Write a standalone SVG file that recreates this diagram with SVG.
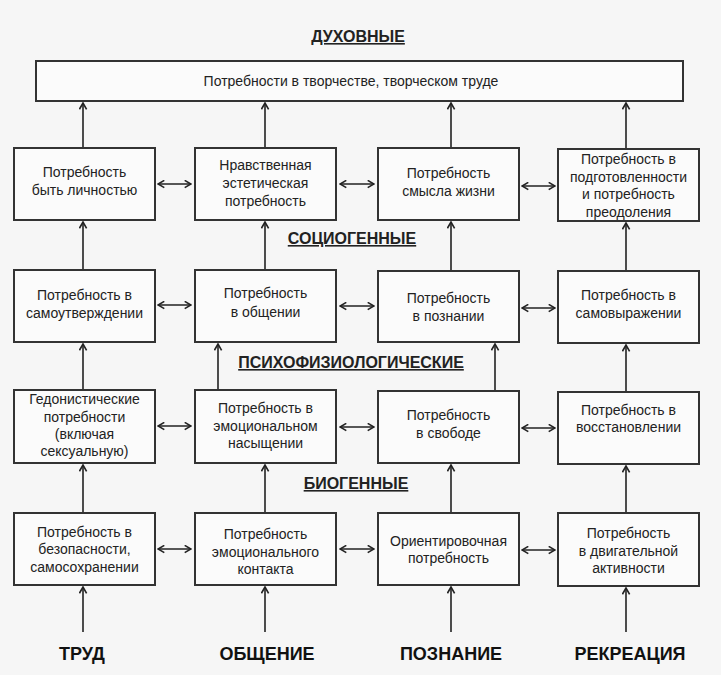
<svg xmlns="http://www.w3.org/2000/svg" width="721" height="675" viewBox="0 0 721 675">
<defs>
<marker id="ah" viewBox="0 0 10 10" refX="9" refY="5" markerWidth="9" markerHeight="9" markerUnits="userSpaceOnUse" orient="auto-start-reverse">
<path d="M2,1 L9,5 L2,9" fill="none" stroke="#222" stroke-width="1.8"/>
</marker>
</defs>
<style>
.box{fill:#fbfbfb;stroke:#333;stroke-width:2}
.t{font-family:"Liberation Sans",Arial,sans-serif;font-size:14px;fill:#222;text-anchor:middle}
.h{font-family:"Liberation Sans",Arial,sans-serif;font-size:16px;font-weight:bold;fill:#222;text-anchor:middle;text-decoration:underline}
.b{font-family:"Liberation Sans",Arial,sans-serif;font-size:18px;font-weight:bold;fill:#111;text-anchor:middle}
.c line{stroke:#222;stroke-width:1.6;marker-end:url(#ah)}
.c line.d{marker-start:url(#ah)}
</style>
<rect width="721" height="675" fill="#f6f6f6"/>

<g id="labels">
<text class="h" x="358" y="42">ДУХОВНЫЕ</text>
<text class="h" x="352" y="244">СОЦИОГЕННЫЕ</text>
<text class="h" x="351" y="368">ПСИХОФИЗИОЛОГИЧЕСКИЕ</text>
<text class="h" x="356" y="489">БИОГЕННЫЕ</text>
</g>

<g id="top"><rect class="box" x="36" y="61" width="647" height="40"/>
<text class="t" x="351" y="86">Потребности в творчестве, творческом труде</text></g>

<g id="r1b1"><rect class="box" x="14" y="148" width="141" height="72"/>
<text class="t" x="84.5" y="177">Потребность</text><text class="t" x="84.5" y="195">быть личностью</text></g>
<g id="r1b2"><rect class="box" x="195" y="148" width="141" height="72"/>
<text class="t" x="265.5" y="170">Нравственная</text><text class="t" x="265.5" y="188">эстетическая</text><text class="t" x="265.5" y="206">потребность</text></g>
<g id="r1b3"><rect class="box" x="378" y="148" width="141" height="72"/>
<text class="t" x="448.5" y="178">Потребность</text><text class="t" x="448.5" y="196">смысла жизни</text></g>
<g id="r1b4"><rect class="box" x="558" y="149" width="141" height="72"/>
<text class="t" x="628.5" y="164">Потребность в</text><text class="t" x="628.5" y="182">подготовленности</text><text class="t" x="628.5" y="199">и потребность</text><text class="t" x="628.5" y="217">преодоления</text></g>

<g id="r2b1"><rect class="box" x="14" y="270" width="141" height="72"/>
<text class="t" x="84.5" y="300">Потребность в</text><text class="t" x="84.5" y="318">самоутверждении</text></g>
<g id="r2b2"><rect class="box" x="195" y="270" width="141" height="72"/>
<text class="t" x="265.5" y="298">Потребность</text><text class="t" x="265.5" y="317">в общении</text></g>
<g id="r2b3"><rect class="box" x="378" y="271" width="141" height="71"/>
<text class="t" x="448.5" y="303">Потребность</text><text class="t" x="448.5" y="321">в познании</text></g>
<g id="r2b4"><rect class="box" x="558" y="271" width="141" height="72"/>
<text class="t" x="628.5" y="300">Потребность в</text><text class="t" x="628.5" y="318">самовыражении</text></g>

<g id="r3b1"><rect class="box" x="14" y="390" width="141" height="73"/>
<text class="t" x="84.5" y="404">Гедонистические</text><text class="t" x="84.5" y="422">потребности</text><text class="t" x="84.5" y="439">(включая</text><text class="t" x="84.5" y="456">сексуальную)</text></g>
<g id="r3b2"><rect class="box" x="195" y="390" width="141" height="73"/>
<text class="t" x="265.5" y="413">Потребность в</text><text class="t" x="265.5" y="431">эмоциональном</text><text class="t" x="265.5" y="448">насыщении</text></g>
<g id="r3b3"><rect class="box" x="378" y="391" width="141" height="72"/>
<text class="t" x="448.5" y="420">Потребность</text><text class="t" x="448.5" y="438">в свободе</text></g>
<g id="r3b4"><rect class="box" x="558" y="392" width="141" height="72"/>
<text class="t" x="628.5" y="415">Потребность в</text><text class="t" x="628.5" y="432">восстановлении</text></g>

<g id="r4b1"><rect class="box" x="14" y="513" width="141" height="72"/>
<text class="t" x="84.5" y="537">Потребность в</text><text class="t" x="84.5" y="554">безопасности,</text><text class="t" x="84.5" y="572">самосохранении</text></g>
<g id="r4b2"><rect class="box" x="195" y="513" width="141" height="72"/>
<text class="t" x="265.5" y="539">Потребность</text><text class="t" x="265.5" y="557">эмоционального</text><text class="t" x="265.5" y="574">контакта</text></g>
<g id="r4b3"><rect class="box" x="378" y="513" width="141" height="72"/>
<text class="t" x="448.5" y="546">Ориентировочная</text><text class="t" x="448.5" y="563">потребность</text></g>
<g id="r4b4"><rect class="box" x="558" y="513" width="141" height="73"/>
<text class="t" x="628.5" y="538">Потребность</text><text class="t" x="628.5" y="556">в двигательной</text><text class="t" x="628.5" y="573">активности</text></g>

<g id="bottom">
<text class="b" x="82" y="660">ТРУД</text>
<text class="b" x="267" y="660">ОБЩЕНИЕ</text>
<text class="b" x="451" y="660">ПОЗНАНИЕ</text>
<text class="b" x="630" y="660">РЕКРЕАЦИЯ</text>
</g>

<g id="connectors" class="c">
<line x1="83" y1="147" x2="83" y2="103"/>
<line x1="265" y1="147" x2="265" y2="103"/>
<line x1="451" y1="147" x2="451" y2="103"/>
<line x1="626" y1="148" x2="626" y2="103"/>

<line x1="83" y1="269" x2="83" y2="222"/>
<line x1="265" y1="269" x2="265" y2="222"/>
<line x1="451" y1="270" x2="451" y2="222"/>
<line x1="626" y1="270" x2="626" y2="223"/>

<line x1="83" y1="389" x2="83" y2="344"/>
<line x1="218" y1="389" x2="218" y2="344"/>
<line x1="495" y1="390" x2="495" y2="344"/>
<line x1="626" y1="391" x2="626" y2="345"/>

<line x1="83" y1="512" x2="83" y2="465"/>
<line x1="265" y1="512" x2="265" y2="465"/>
<line x1="451" y1="512" x2="451" y2="465"/>
<line x1="626" y1="512" x2="626" y2="466"/>

<line x1="83" y1="632" x2="83" y2="587"/>
<line x1="265" y1="632" x2="265" y2="587"/>
<line x1="451" y1="632" x2="451" y2="587"/>
<line x1="626" y1="632" x2="626" y2="588"/>

<line class="d" x1="158" y1="184" x2="191" y2="184"/>
<line class="d" x1="340" y1="184" x2="374" y2="184"/>
<line class="d" x1="522" y1="186" x2="555" y2="186"/>

<line class="d" x1="158" y1="305" x2="191" y2="305"/>
<line class="d" x1="340" y1="306" x2="374" y2="306"/>
<line class="d" x1="522" y1="308" x2="555" y2="308"/>

<line class="d" x1="158" y1="426" x2="191" y2="426"/>
<line class="d" x1="340" y1="427" x2="374" y2="427"/>
<line class="d" x1="522" y1="428" x2="555" y2="428"/>

<line class="d" x1="158" y1="549" x2="191" y2="549"/>
<line class="d" x1="340" y1="549" x2="374" y2="549"/>
<line class="d" x1="522" y1="550" x2="555" y2="550"/>
</g>
</svg>
